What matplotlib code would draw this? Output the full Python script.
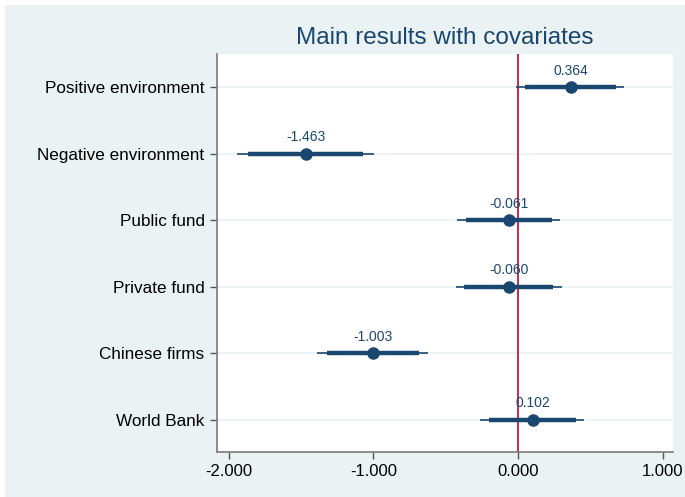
import matplotlib
matplotlib.use("Agg")
import matplotlib.pyplot as plt
from matplotlib.patches import Rectangle
import numpy as np

plt.rcParams['font.family'] = ['Liberation Sans', 'DejaVu Sans']

# coefficients with 90% (thick) and 95% (thin) intervals
labels = ["Positive environment", "Negative environment", "Public fund",
          "Private fund", "Chinese firms", "World Bank"]
coef = [0.364, -1.463, -0.061, -0.060, -1.003, 0.102]
ci90_lo = [0.048, -1.864, -0.362, -0.371, -1.320, -0.200]
ci90_hi = [0.675, -1.069, 0.233, 0.240, -0.684, 0.399]
ci95_lo = [-0.014, -1.940, -0.419, -0.428, -1.390, -0.263]
ci95_hi = [0.735, -0.995, 0.290, 0.302, -0.620, 0.458]
xticks = [-2.0, -1.0, 0.0, 1.0]

navy = '#1a476f'
bg = '#eaf2f3'

fig = plt.figure(figsize=(6.85, 4.97), dpi=100, facecolor='white')
# shaded graph region (leaves a thin white margin top and left)
fig.patches.append(Rectangle((5 / 685, 0), 1, 1 - 5 / 497, transform=fig.transFigure,
                             facecolor=bg, edgecolor='none', zorder=-10))

ax = fig.add_axes([217 / 685, 45 / 497, 456 / 685, 398 / 497])
ax.set_facecolor('white')

y = np.arange(1, len(labels) + 1)

for yi in y:
    ax.axhline(yi, color=bg, lw=1.2, zorder=0)

ax.axvline(0, color='#c10534', lw=1.2, zorder=1)

ax.hlines(y, ci95_lo, ci95_hi, color=navy, lw=1.2, zorder=2)
ax.hlines(y, ci90_lo, ci90_hi, color=navy, lw=3.2, zorder=3)
ax.plot(coef, y, 'o', color=navy, ms=8, zorder=4)

for c, yi in zip(coef, y):
    ax.annotate(f"{c:.3f}", (c, yi), xytext=(0, 12), textcoords='offset points',
                ha='center', va='center', fontsize=10, color=navy, zorder=5)

ax.set_ylim(6.48, 0.5)
ax.set_xlim(-2.08, 1.071)
ax.set_yticks(y)
ax.set_yticklabels(labels, fontsize=12.3)
ax.set_xticks(xticks)
ax.set_xticklabels([f"{t:.3f}" for t in xticks], fontsize=12)

for s in ['top', 'right']:
    ax.spines[s].set_visible(False)
for s in ['left', 'bottom']:
    ax.spines[s].set_color('#7a7a7a')
    ax.spines[s].set_linewidth(1.2)
ax.tick_params(axis='both', direction='out', length=5, width=1, color='#555555',
               labelcolor='black', pad=4)

ax.set_title("Main results with covariates", fontsize=17.5, color=navy, pad=7)

fig.savefig("out.png", dpi=100, facecolor=fig.get_facecolor())
